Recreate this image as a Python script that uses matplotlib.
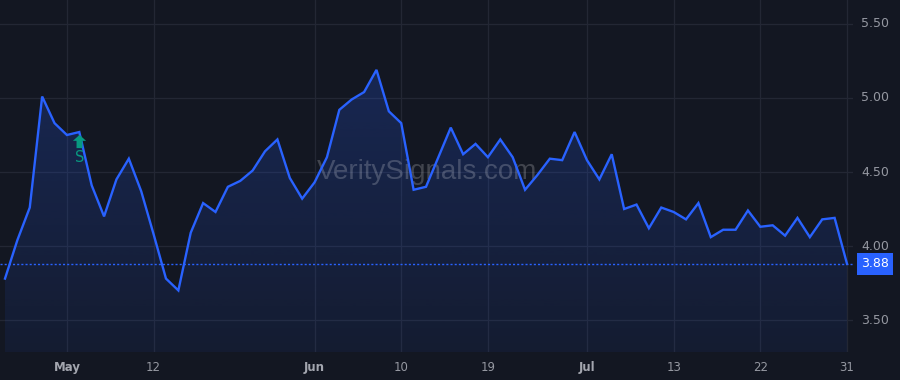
import numpy as np
import pandas as pd
import matplotlib
matplotlib.use("Agg")
import matplotlib.pyplot as plt
from matplotlib.patches import Polygon
from matplotlib.path import Path

# trading days Apr 24 - Jul 31 2020 (Memorial day and Jul 3 closed)
dates = pd.bdate_range("2020-04-24", "2020-07-31")
dates = dates[~dates.isin(pd.to_datetime(["2020-05-25", "2020-07-03"]))]

prices = [3.78, 4.04, 4.26, 5.01, 4.83,
          4.75, 4.77, 4.41, 4.20, 4.45, 4.59, 4.37, 4.08, 3.78, 3.70,
          4.09, 4.29, 4.23, 4.40, 4.44, 4.51, 4.64, 4.72, 4.46, 4.32,
          4.43, 4.60, 4.92, 4.99, 5.04, 5.19, 4.91, 4.83, 4.38, 4.40,
          4.60, 4.80, 4.62, 4.69, 4.60, 4.72, 4.60, 4.38, 4.48, 4.59,
          4.58, 4.77,
          4.58, 4.45, 4.62, 4.25, 4.28, 4.12, 4.26, 4.23, 4.18, 4.29,
          4.06, 4.11, 4.11, 4.24, 4.13, 4.14, 4.07, 4.19, 4.06, 4.18,
          4.19, 3.88]

tick_dates = ["2020-05-01", "2020-05-12", "2020-06-01", "2020-06-10", "2020-06-19",
              "2020-07-01", "2020-07-13", "2020-07-22", "2020-07-31"]
tick_labels = ["May", "12", "Jun", "10", "19", "Jul", "13", "22", "31"]
month_labels = ["May", "Jun", "Jul"]
y_ticks = [3.50, 4.00, 4.50, 5.00, 5.50]

signal_date = "2020-05-04"
signal_label = "S"
last_price = prices[-1]

BG = "#131722"
GRID = "#232734"
BLUE = "#2962ff"
TXT = "#9598a1"
TEAL = "#089981"

x = np.arange(len(prices))
y = np.array(prices)

fig = plt.figure(figsize=(9, 3.8), dpi=100, facecolor=BG)
ax = fig.add_axes([0, 28 / 380, 853 / 900, 352 / 380])
ax.set_facecolor(BG)

x0, x1 = -0.404, 68.485
y0, y1 = 3.284, 5.662
ax.set_xlim(x0, x1)
ax.set_ylim(y0, y1)
px_x = (x1 - x0) / 853
px_y = (y1 - y0) / 352

# grid
pos = [dates.get_loc(pd.Timestamp(d)) for d in tick_dates]
for p in pos:
    ax.axvline(p, color=GRID, lw=0.9, zorder=0)
for t in y_ticks:
    ax.axhline(t, color=GRID, lw=0.9, zorder=0)

# gradient fill under the line
grad = np.linspace(0.22, 0.07, 256)
rgba = np.zeros((256, 1, 4))
rgba[..., 0] = 0x29 / 255
rgba[..., 1] = 0x62 / 255
rgba[..., 2] = 1.0
rgba[:, 0, 3] = grad
img = ax.imshow(rgba, extent=[x[0], x[-1], y0, y.max()], aspect="auto",
                origin="upper", zorder=1)
poly = Polygon(np.column_stack([np.r_[x[0], x, x[-1]], np.r_[y0, y, y0]]),
               closed=True, facecolor="none", edgecolor="none")
ax.add_patch(poly)
img.set_clip_path(poly)

ax.plot(x, y, color=BLUE, lw=1.7, zorder=3, solid_joinstyle="miter")

# last price line
ax.axhline(last_price, color=BLUE, lw=1, ls=(0, (1.5, 1.5)), zorder=2)

# signal marker (up arrow + label)
sx = dates.get_loc(pd.Timestamp(signal_date))
arrow = Path([(0, 1), (1, 0.1), (0.45, 0.1), (0.45, -1), (-0.45, -1), (-0.45, 0.1),
              (-1, 0.1), (0, 1)], closed=True)
ax.plot([sx], [4.00 + (246 - 141.5) / 148], marker=arrow, markersize=9.5,
        color=TEAL, mec="none", zorder=4)
ax.text(sx, 4.00 + (246 - 157) / 148, signal_label, color=TEAL, fontsize=10.5,
        ha="center", va="center", zorder=4)

# watermark
ax.text(x0 + 427 * px_x, 4.00 + (246 - 172) / 148, "VeritySignals.com", color="#ffffff",
        alpha=0.2, fontsize=20, ha="center", va="center", zorder=2,
        family="Liberation Sans")

for s in ax.spines.values():
    s.set_visible(False)
ax.set_xticks([])
ax.set_yticks([])

# x labels
for p, lab in zip(pos, tick_labels):
    bold = lab in month_labels
    ax.text(p, y0 - 15 * px_y, lab, ha="center", va="center", fontsize=8.5,
            color="#a3a6af" if bold else TXT,
            fontweight="bold" if bold else "normal", clip_on=False)

# y labels
lab_x = x0 + 875 * px_x
for t in y_ticks:
    ax.text(lab_x, t, f"{t:.2f}", ha="center", va="center",
            fontsize=9, color=TXT, clip_on=False)

# price tag
ax.text(lab_x, last_price, f"{last_price:.2f}", ha="center", va="center",
        fontsize=9, color="white", clip_on=False, zorder=5,
        bbox=dict(boxstyle="square,pad=0.35", facecolor=BLUE, edgecolor="none"))

fig.savefig("out.png", dpi=100, facecolor=BG)
